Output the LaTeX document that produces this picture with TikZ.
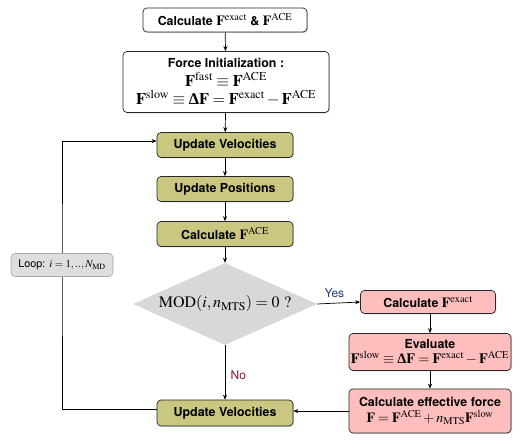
\documentclass[tikz,border=0pt]{standalone}
\usepackage{mathptmx}
\usepackage[no-math]{fontspec}
\setmainfont{TeX Gyre Heros}
\newfontfamily\serifgr{Liberation Serif}
\usetikzlibrary{shapes.geometric,arrows.meta,shadows,backgrounds}
\definecolor{olivebox}{RGB}{201,199,128}
\definecolor{pinkbox}{RGB}{255,190,190}
\definecolor{diagray}{RGB}{216,216,216}
\definecolor{loopgray}{RGB}{222,222,222}
\definecolor{yesblue}{RGB}{30,55,120}
\definecolor{nored}{RGB}{140,20,45}
\newcommand{\bF}{\mathbf{F}}
\newcommand{\bDelta}{\mbox{\serifgr\bfseries Δ}}
\begin{document}
\begin{tikzpicture}[x=1pt,y=-1pt,
  box/.style={draw=black!85, line width=0.7pt, rounded corners=4pt, align=center,
    inner sep=1pt, fill=white, font=\bfseries\fontsize{12.4}{15}\selectfont,
    drop shadow={shadow xshift=0.9pt, shadow yshift=-0.9pt, opacity=0.35}},
  obox/.style={box, fill=olivebox, minimum width=136pt, minimum height=25pt},
  pbox/.style={box, fill=pinkbox},
  conn/.style={line width=0.7pt, -{Stealth[length=5pt,width=4pt]}},
  lbl/.style={font=\fontsize{12}{14}\selectfont}
]
\useasboundingbox (0,0) rectangle (523,446);

\node[box, minimum width=164pt, minimum height=24pt] (top) at (225,20)
  {Calculate {\fontsize{14}{14}\selectfont$\bF^{\mathrm{exact}}$} \& {\fontsize{14}{14}\selectfont$\bF^{\mathrm{ACE}}$}};
\node[box, minimum width=206pt, minimum height=61pt] (init) at (226,82)
  {Force Initialization :\\[3.5pt]
   {\fontsize{16.3}{17}\selectfont$\bF^{\mathrm{fast}} \equiv \bF^{\mathrm{ACE}}$}\\[3pt]
   {\fontsize{16.3}{17}\selectfont$\bF^{\mathrm{slow}} \equiv \bDelta\bF = \bF^{\mathrm{exact}} - \bF^{\mathrm{ACE}}$}};
\node[obox] (uv1) at (225,145) {Update Velocities};
\node[obox] (up) at (225,189) {Update Positions};
\node[obox] (ca) at (225,234) {Calculate {\fontsize{14}{14}\selectfont$\bF^{\mathrm{ACE}}$}};
\node[diamond, fill=diagray, aspect=2.24, minimum width=184pt, minimum height=82pt,
  inner sep=0pt, font=\fontsize{16}{18}\selectfont] (dia) at (225,304)
  {$\mathrm{MOD}(i, n_{\mathrm{MTS}}) = 0\ ?$};
\node[pbox, minimum width=135pt, minimum height=23pt] (cex) at (428,302)
  {Calculate {\fontsize{14}{14}\selectfont$\bF^{\mathrm{exact}}$}};
\node[pbox, minimum width=162pt, minimum height=37pt] (ev) at (430,352)
  {Evaluate\\[0.5pt]
   {\fontsize{14.3}{16}\selectfont$\bF^{\mathrm{slow}} \equiv \bDelta\bF = \bF^{\mathrm{exact}} - \bF^{\mathrm{ACE}}$}};
\node[pbox, minimum width=162pt, minimum height=44pt] (eff) at (430,411)
  {Calculate effective force\\[1.5pt]
   {\fontsize{14}{16}\selectfont$\bF = \bF^{\mathrm{ACE}} + n_{\mathrm{MTS}}\bF^{\mathrm{slow}}$}};
\node[obox, minimum height=26pt] (uv2) at (225,413) {Update Velocities};
\node[draw=black!35, fill=loopgray, rounded corners=4pt, line width=0.6pt,
  minimum width=102pt, minimum height=23pt, inner sep=1pt,
  font=\fontsize{10.8}{12}\selectfont] (loop) at (62,265)
  {Loop: $i = 1,..,N_{\mathrm{MD}}$};

\begin{scope}[on background layer]
\draw[conn] (top) -- (init);
\draw[conn] (init) -- (uv1);
\draw[conn] (uv1) -- (up);
\draw[conn] (up) -- (ca);
\draw[conn] (ca) -- (dia.north);
\draw[conn] (dia.south) -- node[lbl, text=nored, right, pos=0.55, xshift=2pt] {No} (uv2);
\draw[conn] (dia.east) -- node[lbl, text=yesblue, above, pos=0.4, yshift=2pt] {Yes} (cex.west);
\draw[conn] (ev.north |- cex.south) -- (ev.north);
\draw[conn] (ev) -- (eff);
\draw[conn] (eff.west) -- (eff.west -| uv2.east);
\draw[conn] ([yshift=4pt]uv2.west) -| (loop.center) |- ([yshift=4pt]uv1.west);
\end{scope}
\end{tikzpicture}
\end{document}
